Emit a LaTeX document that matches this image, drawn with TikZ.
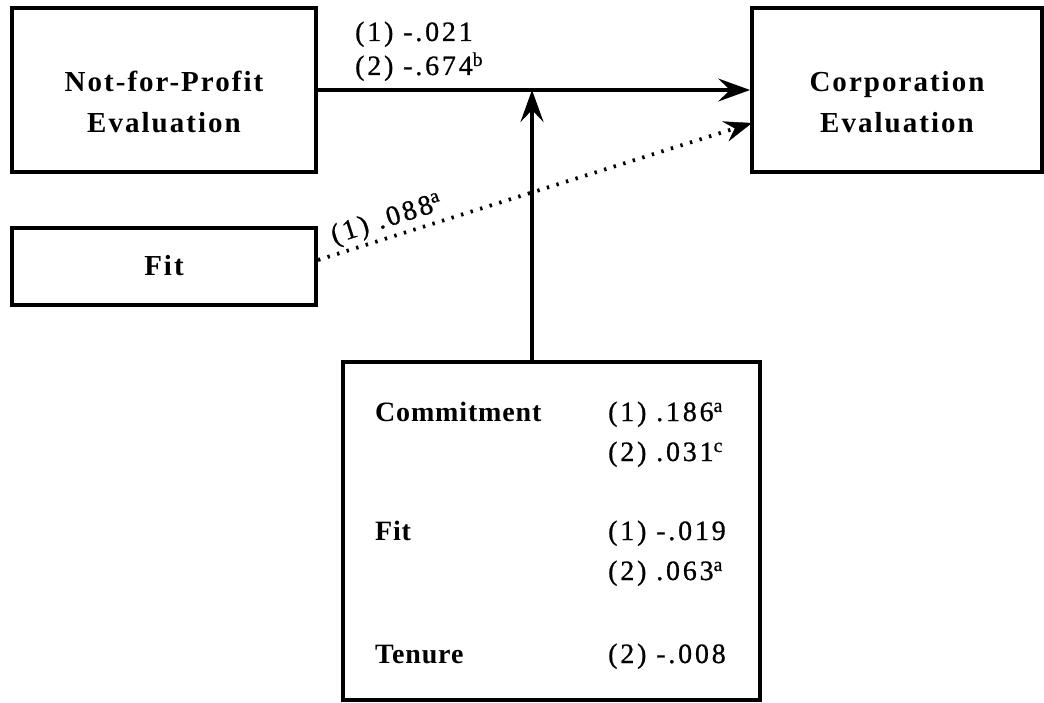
\documentclass[tikz,border=0pt]{standalone}
\usepackage{fontspec}
\setmainfont{Liberation Serif}
\newfontfamily\titlefont[LetterSpace=7]{Liberation Serif}
\newfontfamily\lblfont[LetterSpace=3]{Liberation Serif}
\newfontfamily\numfont[LetterSpace=10,FakeBold=0.8]{Liberation Serif}
\usetikzlibrary{arrows.meta}
\begin{document}
\begin{tikzpicture}[x=1pt,y=-1pt,
  box/.style={draw, line width=3.8pt, inner sep=0pt},
  ttl/.style={font=\titlefont\bfseries\fontsize{29}{41}\selectfont, align=center, inner sep=0pt},
  lbl/.style={font=\lblfont\bfseries\fontsize{28}{33}\selectfont, inner sep=0pt, anchor=base west},
  num/.style={font=\numfont\fontsize{28}{33}\selectfont, inner sep=0pt, anchor=base west},
  arr/.style={line width=3.8pt, -{Stealth[length=32pt,width=23pt,inset=12pt]}},
  dotarr/.style={line width=3.8pt, dash pattern=on 2.4pt off 7.6pt,
    -{Stealth[length=28pt,width=21pt,inset=10pt,line width=0.4pt]}},
]
\useasboundingbox (0,0) rectangle (1044,703);
% boxes
\node[box, minimum width=304pt, minimum height=164pt] (nfp) at (164,90) {};
\node[box, minimum width=290pt, minimum height=164pt] (corp) at (897,90) {};
\node[box, minimum width=304pt, minimum height=77pt] (fit) at (164,266.5) {};
\node[box, minimum width=417pt, minimum height=338pt] (mod) at (551.5,531) {};
% titles
\node[ttl, anchor=base] (nfpt) at (164,133) {Not-for-Profit\\Evaluation};
\node[ttl, anchor=base] (corpt) at (897,133) {Corporation\\Evaluation};
\node[ttl, anchor=base] (fitt) at (164,276) {Fit};
% connectors
\coordinate (junc) at (532,90);
\coordinate (dotend) at (752,123);
\coordinate (dotstart) at (318,260);
\draw[arr] (nfp.east) -- (corp.west);
\draw[arr] (mod.north -| junc) -- (junc);
\draw[dotarr] (dotstart) -- (dotend);
% arrow labels
\node[num] (l1) at (355,41) {(1) -.021};
\node[num] (l2) at (355,75) {(2) -.674\textsuperscript{b}};
\node[num, rotate=17.6] (l3) at (334,244) {(1) .088\textsuperscript{a}};
% moderator box contents
\node[lbl] (c1) at (375,421) {Commitment};
\node[num] (c2) at (608,421) {(1) .186\textsuperscript{a}};
\node[num] (c3) at (608,461) {(2) .031\textsuperscript{c}};
\node[lbl] (f1) at (375,540) {Fit};
\node[num] (f2) at (608,540) {(1) -.019};
\node[num] (f3) at (608,580) {(2) .063\textsuperscript{a}};
\node[lbl] (t1) at (375,663) {Tenure};
\node[num] (t2) at (608,663) {(2) -.008};
\end{tikzpicture}
\end{document}
